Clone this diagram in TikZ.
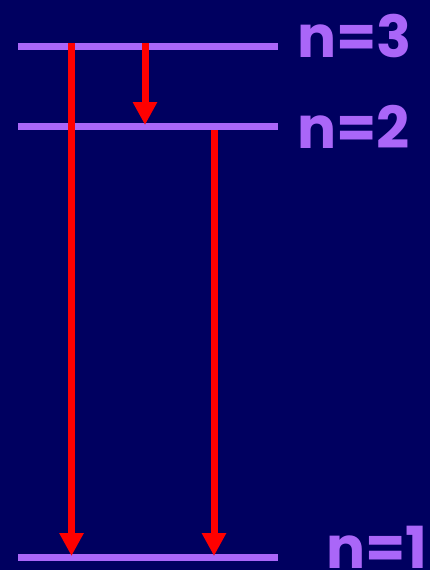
\documentclass[tikz,border=0pt]{standalone}
\usepackage{fontspec}
\setmainfont{Poppins}
\usetikzlibrary{arrows.meta}
\definecolor{bgnavy}{HTML}{000060}
\definecolor{lvl}{HTML}{AA66F8}
\definecolor{arr}{HTML}{FF0000}
\begin{document}
\begin{tikzpicture}[x=1pt,y=-1pt,
  level/.style={draw=lvl,line width=7pt},
  lbl/.style={text=lvl,font=\fontsize{58}{58}\selectfont\bfseries,inner sep=0pt,anchor=base west},
  trans/.style={draw=arr,line width=7pt,-{Triangle[width=23pt,length=23pt]}}]
\fill[bgnavy] (0,0) rectangle (430,570);
\useasboundingbox (0,0) rectangle (430,570);
% levels
\coordinate (l3a) at (18,46.5); \coordinate (l3b) at (278,46.5);
\coordinate (l2a) at (18,126.5); \coordinate (l2b) at (278,126.5);
\coordinate (l1a) at (18,557.5); \coordinate (l1b) at (278,557.5);
\draw[level] (l3a) -- (l3b);
\draw[level] (l2a) -- (l2b);
\draw[level] (l1a) -- (l1b);
% labels
\node[lbl] (n3) at (297,57) {n=3};
\node[lbl] (n2) at (297,148) {n=2};
\node[lbl] (n1) at (326,568) {n=1};
% transitions
\coordinate (t31s) at (71.5,43); \coordinate (t31e) at (71.5,556);
\coordinate (t32s) at (145,43); \coordinate (t32e) at (145,125);
\coordinate (t21s) at (214,130); \coordinate (t21e) at (214,556);
\draw[trans] (t31s) -- (t31e);
\draw[trans] (t32s) -- (t32e);
\draw[trans] (t21s) -- (t21e);
\end{tikzpicture}
\end{document}
